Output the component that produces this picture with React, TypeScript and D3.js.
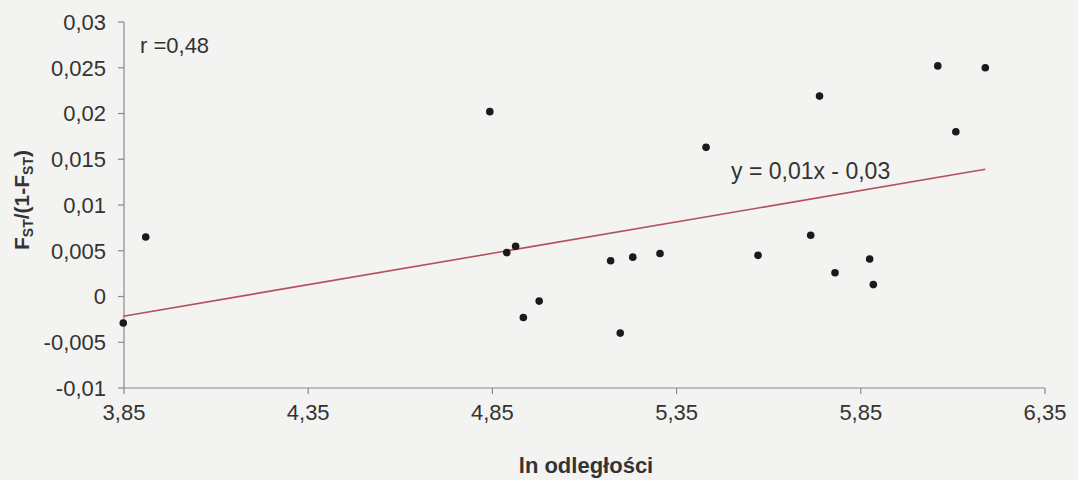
import React from "react";
import * as d3 from "d3";

const lnDistance = [3.848, 3.909, 4.843, 4.889, 4.913, 4.934, 4.977, 5.171, 5.197, 5.231, 5.305, 5.43, 5.571, 5.714, 5.738, 5.78, 5.874, 5.884, 6.059, 6.108, 6.188];
const fstRatio = [-0.0029, 0.0065, 0.0202, 0.0048, 0.0055, -0.0023, -0.0005, 0.0039, -0.004, 0.0043, 0.0047, 0.0163, 0.0045, 0.0067, 0.0219, 0.0026, 0.0041, 0.0013, 0.0252, 0.018, 0.025];
const xTicks = [3.85, 4.35, 4.85, 5.35, 5.85, 6.35];
const yTicks = [-0.01, -0.005, 0, 0.005, 0.01, 0.015, 0.02, 0.025, 0.03];
const rText = "r =0,48";
const eqText = "y = 0,01x - 0,03";
const xTitle = "ln odległości";

const W = 1078;
const H = 480;
const font = "'Liberation Sans', Arial, sans-serif";

const fmt = (v: number) => String(+v.toFixed(4)).replace(".", ",");

export default function App() {
  const x = d3.scaleLinear().domain([3.85, 6.35]).range([124, 1045]);
  const y = d3.scaleLinear().domain([-0.01, 0.03]).range([388, 22]);

  const n = lnDistance.length;
  const mx = d3.mean(lnDistance)!;
  const my = d3.mean(fstRatio)!;
  let sxy = 0, sxx = 0;
  for (let i = 0; i < n; i++) {
    sxy += (lnDistance[i] - mx) * (fstRatio[i] - my);
    sxx += (lnDistance[i] - mx) ** 2;
  }
  const slope = sxy / sxx;
  const icpt = my - slope * mx;
  const x0 = d3.min(lnDistance)!;
  const x1 = d3.max(lnDistance)!;
  const line = d3.line<number>().x((d) => x(d)).y((d) => y(slope * d + icpt));

  const axisColor = "#8a8a8a";
  const textColor = "#333";

  return (
    <svg width={W} height={H} style={{ position: "absolute", left: 0, top: 0, background: "#f3f3f2" }} fontFamily={font}>
      <rect x={0} y={0} width={W} height={H} fill="#f3f3f2" />
      {/* axes */}
      <line x1={x(3.85)} x2={x(3.85)} y1={y(0.03)} y2={y(-0.01)} stroke={axisColor} strokeWidth={1.2} />
      <line x1={x(3.85)} x2={x(6.35)} y1={y(-0.01)} y2={y(-0.01)} stroke={axisColor} strokeWidth={1.2} />
      {yTicks.map((t) => (
        <g key={"y" + t}>
          <line x1={x(3.85) - 6} x2={x(3.85)} y1={y(t)} y2={y(t)} stroke={axisColor} strokeWidth={1.2} />
          <text x={106} y={y(t)} dy="0.36em" textAnchor="end" fontSize={22} fill={textColor}>{fmt(t)}</text>
        </g>
      ))}
      {xTicks.map((t) => (
        <g key={"x" + t}>
          <line x1={x(t)} x2={x(t)} y1={y(-0.01)} y2={y(-0.01) + 6} stroke={axisColor} strokeWidth={1.2} />
          <text x={x(t)} y={420} textAnchor="middle" fontSize={22} fill={textColor}>{fmt(t)}</text>
        </g>
      ))}
      {/* trend line */}
      <path d={line([x0, x1]) || ""} fill="none" stroke="#b5505e" strokeWidth={1.6} />
      {/* points */}
      {lnDistance.map((d, i) => (
        <circle key={i} cx={x(d)} cy={y(fstRatio[i])} r={3.8} fill="#1a1a1a" />
      ))}
      <text x={140} y={53} fontSize={22} fill={textColor}>{rText}</text>
      <text x={731} y={179} fontSize={23} fill={textColor}>{eqText}</text>
      <text x={586} y={473} textAnchor="middle" fontSize={22} fontWeight="bold" fill={textColor}>{xTitle}</text>
      <text transform="translate(29,200) rotate(-90)" textAnchor="middle" fontSize={21} fontWeight="bold" fill={textColor}>
        F<tspan fontSize={14} dy={4}>ST</tspan><tspan dy={-4}>/(1-F</tspan><tspan fontSize={14} dy={4}>ST</tspan><tspan dy={-4}>)</tspan>
      </text>
    </svg>
  );
}
